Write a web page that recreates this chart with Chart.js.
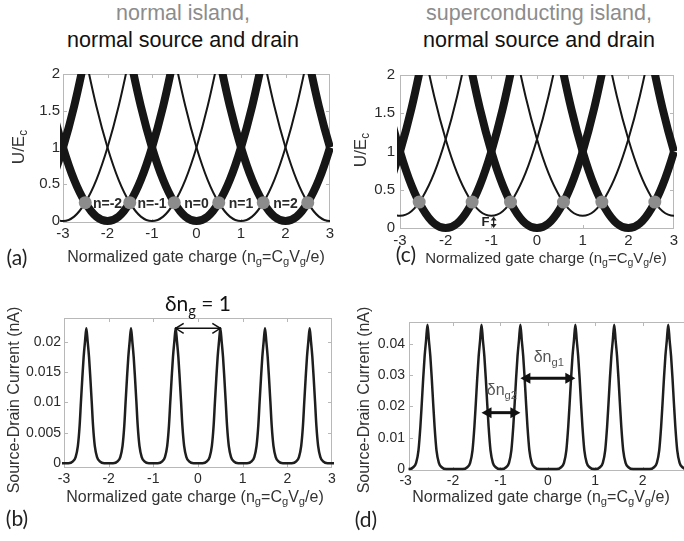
<!DOCTYPE html>
<html>
<head>
<meta charset="utf-8">
<script src="https://cdn.jsdelivr.net/npm/chart.js@4.4.1/dist/chart.umd.min.js"></script>
<style>
  html, body { margin: 0; padding: 0; background: #fff; overflow: hidden; }
  body { width: 684px; height: 541px; position: relative; }
  canvas { position: absolute; }
  .t { position: absolute; transform: translate(-50%, -50%); white-space: nowrap; line-height: 1;
       font-family: "Liberation Sans", Arial, sans-serif; color: #333; }
  .t sub { font-size: 0.7em; vertical-align: -0.3em; line-height: 0; }
  .rot { transform: translate(-50%, -50%) rotate(-90deg); }
  .title { font-size: 21.5px; }
  .axis { font-size: 16px; }
  .tag { font-family: Lato, "Open Sans", sans-serif; font-size: 21px; color: #222; }
</style>
</head>
<body>
<div class="t title" style="left:183px;top:14px;color:#8c8c8c">normal island,</div>
<div class="t title" style="left:183px;top:41px;color:#111">normal source and drain</div>
<div class="t title" style="left:539px;top:14px;color:#8c8c8c">superconducting island,</div>
<div class="t title" style="left:539px;top:41px;color:#111">normal source and drain</div>

<canvas id="chartA" width="342" height="220" style="left:0;top:50px"></canvas>
<canvas id="chartC" width="342" height="220" style="left:342px;top:50px"></canvas>
<canvas id="chartB" width="342" height="225" style="left:0;top:285px"></canvas>
<canvas id="chartD" width="370" height="225" style="left:342px;top:285px"></canvas>

<div class="t axis" style="left:196px;top:257px">Normalized gate charge (n<sub>g</sub>=C<sub>g</sub>V<sub>g</sub>/e)</div>
<div class="t axis" style="left:546px;top:257px;font-size:15px">Normalized gate charge (n<sub>g</sub>=C<sub>g</sub>V<sub>g</sub>/e)</div>
<div class="t axis" style="left:195px;top:497px">Normalized gate charge (n<sub>g</sub>=C<sub>g</sub>V<sub>g</sub>/e)</div>
<div class="t axis" style="left:541px;top:497px">Normalized gate charge (n<sub>g</sub>=C<sub>g</sub>V<sub>g</sub>/e)</div>

<div class="t axis rot" style="left:18px;top:147px;font-size:17px">U/E<sub>c</sub></div>
<div class="t axis rot" style="left:360px;top:150px;font-size:17px">U/E<sub>c</sub></div>
<div class="t axis rot" style="left:14px;top:400px">Source-Drain Current (nA)</div>
<div class="t axis rot" style="left:364px;top:400px">Source-Drain Current (nA)</div>

<div class="t tag" style="left:17px;top:256px">(a)</div>
<div class="t tag" style="left:406px;top:253px">(c)</div>
<div class="t tag" style="left:17px;top:517px">(b)</div>
<div class="t tag" style="left:366px;top:518px">(d)</div>

<script>
// axis ticks
var ngTicks = [-3, -2, -1, 0, 1, 2, 3];
var energyTicks = [0, 0.5, 1, 1.5, 2];
var currentTicksB = [0, 0.005, 0.01, 0.015, 0.02];
var currentTicksD = [0, 0.01, 0.02, 0.03, 0.04];

// charging-energy parabolas, one per charge state n (shape)
var chargeStates = [-4, -3, -2, -1, 0, 1, 2, 3, 4];
var arcOffset = [-1.6, -1.5, -1.25, -1, -0.75, -0.5, -0.25, 0, 0.25, 0.5, 0.75, 1, 1.25, 1.5, 1.6];
var arcEnergy = [2.56, 2.25, 1.56, 1, 0.56, 0.25, 0.06, 0, 0.06, 0.25, 0.56, 1, 1.56, 2.25, 2.56];
var oddLiftC = 0.16; // F, odd states lifted on the superconducting island

// degeneracy points (grey dots)
var crossNgA = [-2.5, -1.5, -0.5, 0.5, 1.5, 2.5];
var crossEnergyA = 0.25;
var crossNgC = [-2.58, -1.42, -0.58, 0.58, 1.42, 2.58];
var crossEnergyC = 0.34;

// state labels in (a)
var stateNames = ['n=-2', 'n=-1', 'n=0', 'n=1', 'n=2'];
var stateNg = [-2, -1, 0, 1, 2];

// conductance peaks
var peakNgB = [-2.5, -1.5, -0.5, 0.5, 1.5, 2.5];
var peakNgD = [-2.54, -1.4, -0.58, 0.58, 1.4, 2.54];
var peakOffset = [-0.4, -0.3, -0.24, -0.19, -0.15, -0.12, -0.09, -0.06, -0.03, 0, 0.03, 0.06, 0.09, 0.12, 0.15, 0.19, 0.24, 0.3, 0.4];
var peakCurrentB = [0, 0.0003, 0.001, 0.0028, 0.0062, 0.0102, 0.014, 0.0175, 0.02, 0.0222, 0.02, 0.0175, 0.014, 0.0102, 0.0062, 0.0028, 0.001, 0.0003, 0];
var peakCurrentD = [0, 0.0006, 0.002, 0.006, 0.0135, 0.021, 0.029, 0.036, 0.041, 0.046, 0.041, 0.036, 0.029, 0.021, 0.0135, 0.006, 0.002, 0.0006, 0];

var INK = '#161616';
var SANS = '"Liberation Sans", Arial, sans-serif';
var CALI = 'Lato, "DejaVu Sans", sans-serif';

function parabolas(lift) {
    return chargeStates.map(function(n) {
        var odd = Math.abs(n) % 2 === 1;
        return {
            data: arcOffset.map(function(o, i) {
                return { x: n + o, y: arcEnergy[i] + (odd ? lift : 0) };
            }),
            borderColor: INK,
            borderWidth: odd ? 2 : 8,
            borderJoinStyle: 'round',
            cubicInterpolationMode: 'monotone',
            pointRadius: 0,
            clip: { left: 3, right: 3, top: 0, bottom: 4 },
            order: 1
        };
    });
}

function dots(ngs, u) {
    return {
        data: ngs.map(function(v) { return { x: v, y: u }; }),
        showLine: false,
        pointRadius: 6.5,
        pointBackgroundColor: '#8c8c8c',
        pointBorderWidth: 0,
        clip: false,
        order: 0
    };
}

function peaks(centers, currents) {
    var pts = [{ x: -3.2, y: 0 }];
    centers.forEach(function(c) {
        peakOffset.forEach(function(o, i) { pts.push({ x: c + o, y: currents[i] }); });
    });
    pts.push({ x: 3.2, y: 0 });
    return {
        data: pts,
        borderColor: '#1e1e1e',
        borderWidth: 2.5,
        cubicInterpolationMode: 'monotone',
        pointRadius: 0,
        clip: { left: 2, right: 2, top: 2, bottom: 3 }
    };
}

function fixTicks(values) {
    return function(scale) {
        scale.ticks = values.map(function(v) { return { value: v }; });
    };
}

function scales(o) {
    var font = { family: SANS, size: o.font };
    return {
        x: {
            type: 'linear', min: o.xmin, max: o.xmax,
            afterBuildTicks: fixTicks(ngTicks),
            afterFit: function(s) { s.height = o.bottom; },
            grid: { display: false, drawTicks: false },
            border: { display: false },
            ticks: { color: '#2a2a2a', font: font, padding: o.xpad, autoSkip: false, maxRotation: 0,
                     callback: function(v) { return String(v); } }
        },
        y: {
            type: 'linear', min: o.ymin, max: o.ymax,
            afterBuildTicks: fixTicks(o.yticks),
            afterFit: function(s) { s.width = o.left; },
            grid: { display: false, drawTicks: false },
            border: { display: false },
            ticks: { color: '#2a2a2a', font: font, padding: o.ypad, autoSkip: false,
                     callback: function(v) { return String(v); } }
        }
    };
}

// box round the plot with small inward ticks
var frame = {
    id: 'frame',
    beforeDatasetsDraw: function(chart) {
        var ctx = chart.ctx, a = chart.chartArea, x = chart.scales.x, y = chart.scales.y;
        ctx.save();
        ctx.strokeStyle = '#b8b8b8';
        ctx.lineWidth = 1;
        ctx.strokeRect(Math.round(a.left) + 0.5, Math.round(a.top) + 0.5,
                       Math.round(a.width) - 1, Math.round(a.height) - 1);
        ctx.beginPath();
        x.ticks.forEach(function(t) {
            var px = Math.round(x.getPixelForValue(t.value)) + 0.5;
            if (px < a.left + 1 || px > a.right - 1) return;
            ctx.moveTo(px, a.bottom); ctx.lineTo(px, a.bottom - 4);
            ctx.moveTo(px, a.top); ctx.lineTo(px, a.top + 4);
        });
        y.ticks.forEach(function(t) {
            var py = Math.round(y.getPixelForValue(t.value)) + 0.5;
            if (py < a.top + 1 || py > a.bottom - 1) return;
            ctx.moveTo(a.left, py); ctx.lineTo(a.left + 4, py);
            ctx.moveTo(a.right, py); ctx.lineTo(a.right - 4, py);
        });
        ctx.stroke();
        ctx.restore();
    }
};

function drawParts(ctx, parts, cx, cy, size, family, weight, color) {
    var widths = parts.map(function(p) {
        ctx.font = weight + ' ' + (p[1] ? size * 0.7 : size) + 'px ' + family;
        return ctx.measureText(p[0]).width;
    });
    var total = widths.reduce(function(s, w) { return s + w; }, 0);
    var xx = cx - total / 2;
    ctx.fillStyle = color;
    ctx.textBaseline = 'middle';
    ctx.textAlign = 'left';
    parts.forEach(function(p, i) {
        ctx.font = weight + ' ' + (p[1] ? size * 0.7 : size) + 'px ' + family;
        ctx.fillText(p[0], xx, cy + (p[1] ? size * 0.32 : 0));
        xx += widths[i];
    });
}

function head(ctx, x, y, dx, dy, len, half, filled) {
    ctx.beginPath();
    ctx.moveTo(x - dx * len - dy * half, y - dy * len + dx * half);
    ctx.lineTo(x, y);
    ctx.lineTo(x - dx * len + dy * half, y - dy * len - dx * half);
    if (filled) { ctx.closePath(); ctx.fill(); } else { ctx.stroke(); }
}

function arrow(ctx, p1, p2, w, len, half, filled, color) {
    var dx = p2.x - p1.x, dy = p2.y - p1.y, d = Math.hypot(dx, dy);
    dx /= d; dy /= d;
    var cut = filled ? len * 0.8 : 0;
    ctx.save();
    ctx.strokeStyle = color; ctx.fillStyle = color; ctx.lineWidth = w;
    ctx.beginPath();
    ctx.moveTo(p1.x + dx * cut, p1.y + dy * cut);
    ctx.lineTo(p2.x - dx * cut, p2.y - dy * cut);
    ctx.stroke();
    head(ctx, p2.x, p2.y, dx, dy, len, half, filled);
    head(ctx, p1.x, p1.y, -dx, -dy, len, half, filled);
    ctx.restore();
}

// text and arrow marks given in data coordinates
function marks(items) {
    return {
        id: 'marks',
        afterDatasetsDraw: function(chart) {
            var ctx = chart.ctx, x = chart.scales.x, y = chart.scales.y;
            function px(v, w) { return { x: x.getPixelForValue(v), y: y.getPixelForValue(w) }; }
            ctx.save();
            items.forEach(function(m) {
                if (m.text) {
                    var p = px(m.x, m.y);
                    drawParts(ctx, m.text, p.x, p.y, m.size, m.family, m.weight || 'normal', m.color);
                } else {
                    arrow(ctx, px(m.x1, m.y1), px(m.x2, m.y2), m.width, m.len, m.half, m.filled, m.color);
                }
            });
            ctx.restore();
        }
    };
}

function make(id, datasets, sc, pad, items) {
    return new Chart(document.getElementById(id), {
        type: 'line',
        data: { datasets: datasets },
        options: {
            responsive: false,
            animation: false,
            devicePixelRatio: 1,
            layout: { padding: pad },
            plugins: { legend: { display: false }, tooltip: { enabled: false } },
            scales: sc
        },
        plugins: [frame, marks(items)]
    });
}

make('chartA',
    [dots(crossNgA, crossEnergyA)].concat(parabolas(0)),
    scales({ xmin: -3, xmax: 3, ymin: -0.027, ymax: 2, yticks: energyTicks, left: 63, bottom: 47, xpad: 2, ypad: 3, font: 15 }),
    { top: 24, right: 12, left: 0, bottom: 0 },
    stateNames.map(function(s, i) {
        return { text: [[s]], x: stateNg[i], y: 0.235, size: 14, family: SANS, weight: 'bold', color: '#2a2a2a' };
    }));

make('chartC',
    [dots(crossNgC, crossEnergyC)].concat(parabolas(oddLiftC)),
    scales({ xmin: -3, xmax: 3, ymin: -0.012, ymax: 2, yticks: energyTicks, left: 58, bottom: 41, xpad: 3, ypad: 5, font: 15 }),
    { top: 25, right: 10, left: 0, bottom: 0 },
    [
        { text: [['F']], x: -1.13, y: 0.07, size: 13, family: SANS, weight: 'bold', color: '#222' },
        { x1: -0.95, y1: oddLiftC - 0.01, x2: -0.95, y2: 0.0, width: 1.3, len: 4, half: 3, filled: true, color: '#222' }
    ]);

make('chartB',
    [peaks(peakNgB, peakCurrentB)],
    scales({ xmin: -3, xmax: 3, ymin: -0.0008, ymax: 0.0239, yticks: currentTicksB, left: 64, bottom: 42, xpad: 3, ypad: 3, font: 14 }),
    { top: 33, right: 10, left: 0, bottom: 0 },
    [
        { x1: peakNgB[2], y1: 0.0222, x2: peakNgB[3], y2: 0.0222, width: 1.5, len: 8, half: 5, filled: false, color: '#111' },
        { text: [['\u03b4n'], ['g', 1], [' = 1']], x: 0, y: 0.0261, size: 21, family: CALI, color: '#111' }
    ]);

make('chartD',
    [peaks(peakNgD, peakCurrentD)],
    scales({ xmin: -2.93, xmax: 3.05, ymin: -0.0006, ymax: 0.0469, yticks: currentTicksD, left: 67, bottom: 39, xpad: 2, ypad: 4, font: 14 }),
    { top: 37, right: 19.6, left: 0, bottom: 0 },
    [
        { x1: peakNgD[2], y1: 0.029, x2: peakNgD[3], y2: 0.029, width: 3, len: 10, half: 5.5, filled: true, color: '#111' },
        { text: [['\u03b4n'], ['g1', 1]], x: 0.02, y: 0.0356, size: 16, family: SANS, color: '#555' },
        { x1: peakNgD[1], y1: 0.018, x2: peakNgD[2], y2: 0.018, width: 3, len: 10, half: 5.5, filled: true, color: '#111' },
        { text: [['\u03b4n'], ['g2', 1]], x: -0.97, y: 0.025, size: 16, family: SANS, color: '#555' }
    ]);
</script>
</body>
</html>
